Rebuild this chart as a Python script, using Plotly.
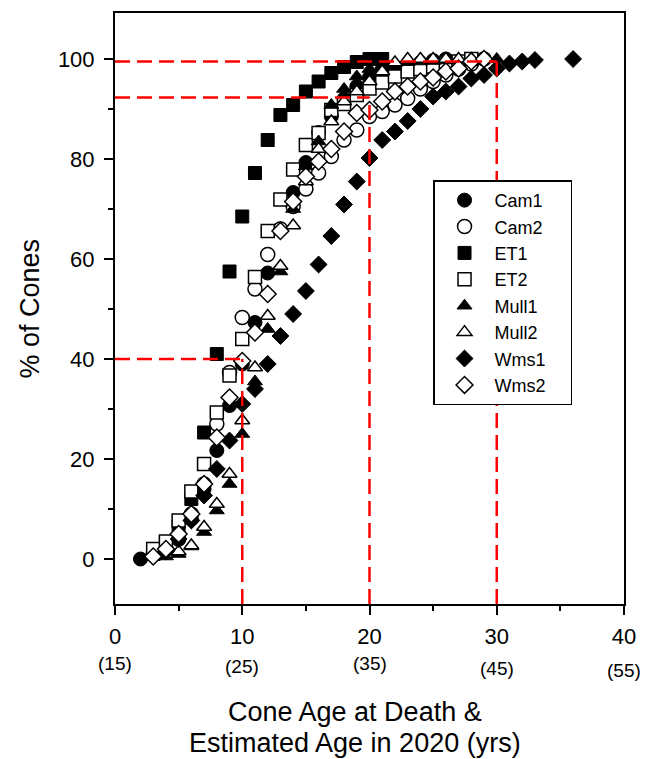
import plotly.graph_objects as go

# ---------------- data ----------------
cam1_x = list(range(2, 27))
cam1_y = [0, 0.8, 2, 4, 8, 14, 21.7, 30.7, 39, 47.3, 57.2, 66, 73.3, 79.3, 85.3,
          88.5, 92, 94.5, 96.3, 97.5, 98.2, 98.8, 99.3, 99.7, 100]

cam2_x = list(range(3, 30))
cam2_y = [1, 2, 4, 9, 15, 27, 37.3, 48.3, 54, 60.9, 66, 70.5, 74, 77.2, 80.5,
          83.8, 85.8, 88.5, 89.5, 90.8, 92.1, 94, 95.5, 96.8, 98, 99, 100]

et1_x = list(range(3, 22))
et1_y = [1, 3.3, 6.5, 12, 25.3, 41, 57.5, 68.5, 77.2, 83.8, 88.8, 90.8, 93.5,
         95.5, 97.2, 98.4, 99.4, 100, 100]

et2_x = list(range(3, 29))
et2_y = [2, 3.5, 7.7, 13.5, 19, 29.3, 36.7, 44, 56.4, 65.6, 71.9, 77.9, 82.8,
         85.2, 89.8, 91, 92.8, 94.1, 95.3, 96.5, 97.5, 98, 98.5, 99, 99.5, 100]

mull1_x = list(range(4, 31))
mull1_y = [0.5, 1, 2.5, 5.4, 9.7, 15, 25, 35.5, 46, 57.5, 70, 78.5, 83.5, 90.8,
           94, 96.5, 98, 98.8, 99.2, 99.4, 99.5, 99.6, 99.7, 99.8, 99.8, 99.9, 100]

mull2_x = list(range(3, 30))
mull2_y = [0.5, 1, 1.5, 2.7, 6.4, 11, 17, 27.7, 38.3, 48.6, 58.6, 66.7, 75.5,
           82, 87.5, 91.5, 93.5, 95.5, 97.5, 99.3, 100, 100, 100, 100, 100, 100, 100]

wms1_x = list(range(3, 34)) + [36]
wms1_y = [0.5, 1.5, 4, 7.7, 12.7, 18, 23.7, 31, 34, 39, 44.6, 49, 53.6, 58.9,
          64.6, 70.9, 75.5, 80.2, 83.8, 85.5, 87.6, 90, 92.5, 93.5, 94.5, 96.1,
          96.8, 98.1, 99.1, 99.5, 99.8, 100]

wms2_x = list(range(3, 30))
wms2_y = [0.5, 2, 5, 9, 15, 24.3, 32.3, 39.6, 45.3, 53, 65.6, 71.5, 76.5, 79.5,
          82, 85.5, 89.2, 89.8, 91.5, 93.5, 94.5, 95.5, 96.3, 97.5, 98.1, 99.5, 100]

# reference lines: (x at which vertical drops, y level of horizontal)
ref_x = [10, 20, 30]
ref_y = [40, 92.3, 99.5]

x_ticks = [0, 10, 20, 30, 40]
x_ticks_2020 = ["(15)", "(25)", "(35)", "(45)", "(55)"]
y_ticks = [0, 20, 40, 60, 80, 100]

FONT = "Liberation Sans, Arial, sans-serif"
PAD = "\u00a0" * 4  # widen legend box to match reference

series = [
    ("Cam1", cam1_x, cam1_y, "circle", True, 14),
    ("Cam2", cam2_x, cam2_y, "circle", False, 14),
    ("ET1", et1_x, et1_y, "square", True, 13),
    ("ET2", et2_x, et2_y, "square", False, 13),
    ("Mull1", mull1_x, mull1_y, "triangle-up", True, 13),
    ("Mull2", mull2_x, mull2_y, "triangle-up", False, 13),
    ("Wms1", wms1_x, wms1_y, "diamond", True, 13),
    ("Wms2", wms2_x, wms2_y, "diamond", False, 13),
]

fig = go.Figure()
for name, xs, ys, sym, filled, size in series:
    fig.add_trace(go.Scatter(
        x=xs, y=ys, mode="markers", name=name + PAD, legendgroup=name,
        marker=dict(symbol=sym, size=size,
                    color="black" if filled else "white",
                    line=dict(color="black", width=1 if filled else 1.5)),
    ))

# red dashed reference lines
Y_MIN, Y_MAX = -9, 109.2
for xv, yv in zip(ref_x, ref_y):
    fig.add_shape(type="line", x0=0, x1=xv, y0=yv, y1=yv, xref="x", yref="y",
                  line=dict(color="red", width=2.5, dash="15px,7px"), layer="above")
    fig.add_shape(type="line", x0=xv, x1=xv, y0=Y_MIN, y1=yv, xref="x", yref="y",
                  line=dict(color="red", width=2.5, dash="15px,7px"), layer="above")

# second row of x tick labels (age in 2020)
shifts = [-59, -62, -59, -64, -66]
for xv, txt, sh in zip(x_ticks, x_ticks_2020, shifts):
    fig.add_annotation(x=xv, y=0, xref="x", yref="paper", text=txt, showarrow=False,
                       yshift=sh, xanchor="center", yanchor="middle",
                       font=dict(family=FONT, size=19, color="black"))

# axis titles
fig.add_annotation(x=0, y=0.5, xref="paper", yref="paper", text="% of Cones",
                   textangle=-90, showarrow=False, xshift=-86,
                   xanchor="center", yanchor="middle",
                   font=dict(family=FONT, size=27, color="black"))
fig.add_annotation(x=0.4715, y=0, xref="paper", yref="paper", text="Cone Age at Death &",
                   showarrow=False, yshift=-108, xanchor="center", yanchor="middle",
                   font=dict(family=FONT, size=27, color="black"))
fig.add_annotation(x=0.4715, y=0, xref="paper", yref="paper",
                   text="Estimated Age in 2020 (yrs)",
                   showarrow=False, yshift=-139, xanchor="center", yanchor="middle",
                   font=dict(family=FONT, size=27, color="black"))

fig.update_layout(
    width=643, height=751,
    margin=dict(l=107, r=27, t=3, b=155),
    paper_bgcolor="white", plot_bgcolor="white",
    font=dict(family=FONT, color="black"),
    showlegend=True,
    legend=dict(x=0.6248, y=0.7167, xanchor="left", yanchor="top",
                bgcolor="white", bordercolor="black", borderwidth=1.5,
                font=dict(family=FONT, size=18, color="black"),
                itemwidth=50, tracegroupgap=0),
    xaxis=dict(range=[0, 40], tickvals=x_ticks, ticktext=[str(v) for v in x_ticks],
               showgrid=False, zeroline=False, showline=True, linecolor="black",
               linewidth=2, mirror=True, ticks="outside", ticklen=9, tickwidth=2,
               tickcolor="black", ticklabelstandoff=3,
               tickfont=dict(family=FONT, size=22, color="black"),
               minor=dict(dtick=5, tick0=0, ticks="outside", ticklen=5, tickwidth=1.5,
                          tickcolor="black", showgrid=False)),
    yaxis=dict(range=[Y_MIN, Y_MAX], tickvals=y_ticks,
               showgrid=False, zeroline=False, showline=True, linecolor="black",
               linewidth=2, mirror=True, ticks="outside", ticklen=9, tickwidth=2,
               tickcolor="black", ticklabelstandoff=5,
               tickfont=dict(family=FONT, size=22, color="black"),
               minor=dict(dtick=10, tick0=0, ticks="outside", ticklen=5, tickwidth=1.5,
                          tickcolor="black", showgrid=False)),
)

fig.write_html("out.html")
